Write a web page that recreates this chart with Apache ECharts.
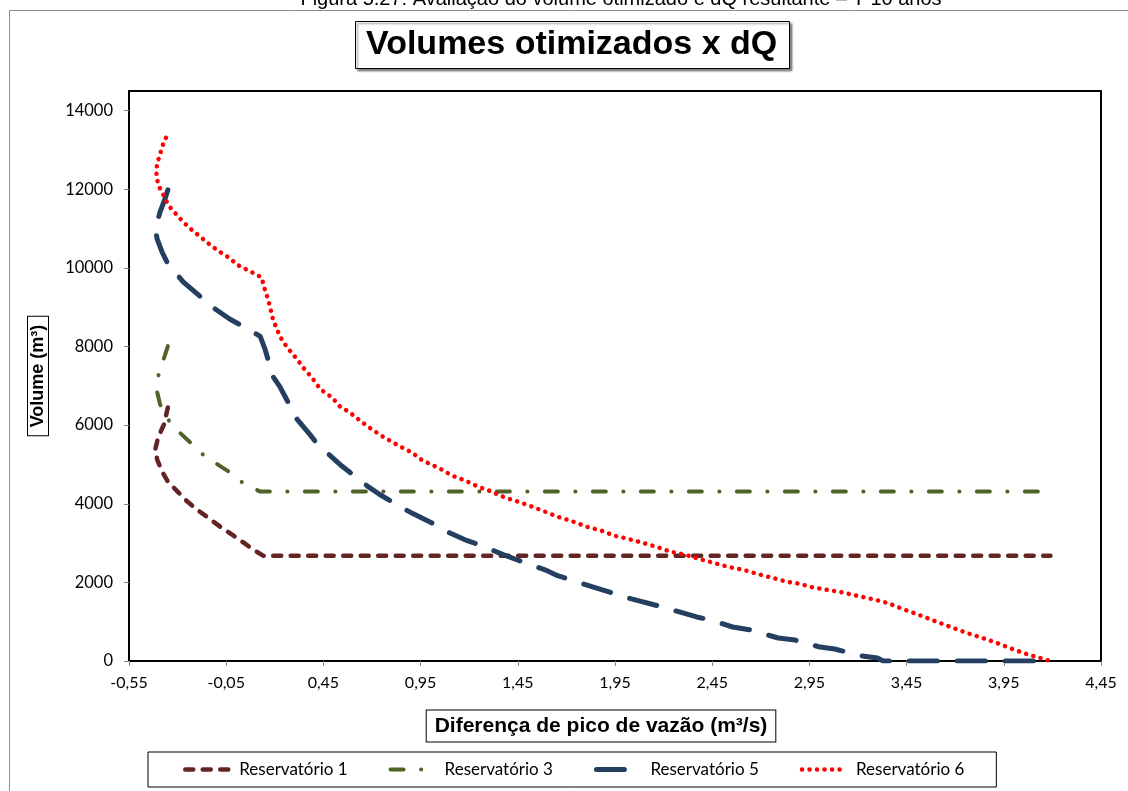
<!DOCTYPE html>
<html><head><meta charset="utf-8">
<script src="https://cdn.jsdelivr.net/npm/echarts@6/dist/echarts.min.js"></script>
<style>html,body{margin:0;padding:0;background:#fff}#c{width:1128px;height:791px}</style>
</head><body><div id="c"></div>
<script>
const captionText = 'Figura 5.27: Avaliação do volume otimizado e dQ resultante – T 10 anos';
const titleText = 'Volumes otimizados x dQ';
const xTitle = 'Diferença de pico de vazão (m³/s)';
const yTitle = 'Volume (m³)';
const seriesNames = ['Reservatório 1', 'Reservatório 3', 'Reservatório 5', 'Reservatório 6'];
const yTickValues = [0, 2000, 4000, 6000, 8000, 10000, 12000, 14000];
const xMin = -0.55, xMax = 4.45, xStep = 0.5;

const res1 = [[-0.35,6450],[-0.37,6020],[-0.40,5690],[-0.415,5380],[-0.405,5125],[-0.38,4820],[-0.35,4565],[-0.30,4310],[-0.25,4055],[-0.20,3850],[-0.15,3670],[-0.08,3415],[-0.02,3215],[0.04,3010],[0.09,2830],[0.14,2680],[4.19,2680]];
const res3 = [[-0.35,8010],[-0.375,7625],[-0.40,7240],[-0.405,6835],[-0.39,6530],[-0.355,6195],[-0.325,5970],[-0.29,5815],[-0.235,5560],[-0.185,5305],[-0.145,5175],[-0.085,4970],[-0.03,4795],[0.01,4615],[0.06,4460],[0.125,4310],[4.19,4310]];
const res5 = [[-0.35,11985],[-0.365,11755],[-0.39,11425],[-0.415,10990],[-0.405,10735],[-0.38,10405],[-0.35,10100],[-0.315,9895],[-0.27,9640],[-0.185,9280],[-0.12,9000],[-0.03,8695],[0.035,8515],[0.125,8260],[0.15,7930],[0.19,7240],[0.225,6985],[0.28,6475],[0.315,6145],[0.38,5765],[0.42,5510],[0.535,5000],[0.6,4745],[0.68,4435],[0.74,4235],[0.845,3925],[0.91,3750],[1.015,3495],[1.075,3315],[1.19,3060],[1.265,2935],[1.375,2705],[1.445,2575],[1.59,2320],[1.655,2170],[1.77,1990],[1.835,1885],[1.965,1685],[2.035,1580],[2.17,1405],[2.245,1300],[2.37,1120],[2.44,1045],[2.555,865],[2.645,790],[2.79,585],[2.875,535],[3.005,355],[3.08,305],[3.22,130],[3.30,75],[3.33,0],[4.19,0]];
const res6 = [[-0.36,13310],[-0.38,13080],[-0.39,12880],[-0.405,12675],[-0.41,12445],[-0.405,12240],[-0.395,12060],[-0.38,11935],[-0.365,11755],[-0.34,11550],[-0.29,11270],[-0.245,11040],[-0.195,10840],[-0.145,10635],[-0.09,10430],[-0.04,10275],[0.01,10070],[0.06,9945],[0.11,9820],[0.135,9740],[0.14,9590],[0.16,9280],[0.175,9025],[0.19,8695],[0.215,8390],[0.24,8135],[0.28,7880],[0.315,7675],[0.345,7470],[0.39,7215],[0.435,6910],[0.495,6705],[0.535,6475],[0.585,6325],[0.65,6070],[0.70,5890],[0.755,5710],[0.845,5455],[0.905,5305],[0.96,5100],[1.05,4895],[1.11,4720],[1.18,4590],[1.245,4435],[1.315,4310],[1.385,4155],[1.45,4055],[1.525,3925],[1.59,3800],[1.655,3670],[1.735,3545],[1.805,3415],[1.88,3315],[1.95,3185],[2.015,3110],[2.09,3010],[2.165,2905],[2.235,2780],[2.31,2705],[2.38,2600],[2.455,2500],[2.53,2395],[2.61,2320],[2.68,2220],[2.76,2115],[2.835,2015],[2.90,1965],[2.955,1885],[3.04,1810],[3.105,1760],[3.195,1660],[3.27,1580],[3.35,1480],[3.415,1350],[3.485,1225],[3.555,1095],[3.62,970],[3.69,840],[3.76,715],[3.84,585],[3.915,460],[3.98,330],[4.05,205],[4.12,100],[4.19,0]];

const chart = echarts.init(document.getElementById('c'), null, {renderer: 'canvas'});
const tickFont = 'Lato';
const mkSeries = (name, data, color, width, dash) => ({
  name, type: 'line', data, symbol: 'none', showSymbol: false, smooth: false,
  lineStyle: {color, width, type: dash, cap: 'round', join: 'round'},
  itemStyle: {color}, emphasis: {disabled: true}, animation: false
});
chart.setOption({
  backgroundColor: '#fff',
  animation: false,
  title: {
    text: titleText, left: 355, top: 21, padding: [7, 13, 7, 11],
    borderColor: '#000', borderWidth: 1, backgroundColor: '#fff',
    shadowColor: 'rgba(0,0,0,0.45)', shadowBlur: 2, shadowOffsetX: 2, shadowOffsetY: 2,
    textStyle: {fontFamily: 'Liberation Sans', fontWeight: 'bold', fontSize: 34, color: '#000'}
  },
  legend: {
    data: seriesNames, left: 148, top: 752, orient: 'horizontal',
    padding: [9, 32, 9, 35], itemWidth: 45, itemHeight: 18, itemGap: 41,
    borderColor: '#000', borderWidth: 1, backgroundColor: '#fff',
    lineStyle: {width: 'inherit'},
    itemStyle: {opacity: 0},
    textStyle: {fontFamily: tickFont, fontSize: 17, color: '#000', padding: [0, 0, 0, 4]},
    selectedMode: false
  },
  grid: {left: 129, right: 27, top: 91, bottom: 130, show: true, borderColor: '#000', borderWidth: 2, containLabel: false},
  xAxis: {
    type: 'value', min: xMin, max: xMax, interval: xStep,
    axisLine: {show: true, onZero: false, lineStyle: {color: '#000', width: 2}},
    axisTick: {show: true, length: 5, lineStyle: {color: '#868686'}},
    splitLine: {show: false},
    axisLabel: {margin: 14, fontFamily: tickFont, fontSize: 16, color: '#000',
      formatter: v => v.toFixed(2).replace('.', ',')}
  },
  yAxis: {
    type: 'value', min: 0, max: 14500,
    axisLine: {show: true, onZero: false, lineStyle: {color: '#000', width: 2}},
    axisTick: {show: true, length: 5, lineStyle: {color: '#868686'}, customValues: yTickValues},
    splitLine: {show: false},
    axisLabel: {margin: 16, fontFamily: tickFont, fontSize: 16.5, color: '#000', customValues: yTickValues,
      formatter: v => String(v)}
  },
  graphic: [
    {type: 'rect', silent: true, z: -10, shape: {x: 9.5, y: 10.5, width: 1300, height: 1000},
     style: {fill: 'none', stroke: '#8c8c8c', lineWidth: 1}},
    {type: 'text', silent: true, x: 621, y: -1,
     style: {text: captionText, font: '20px "Liberation Sans"', fill: '#000', textAlign: 'center', textVerticalAlign: 'middle'}},
    {type: 'text', silent: true, x: 601, y: 726,
     style: {text: xTitle, font: 'bold 21px "Liberation Sans"', fill: '#000', textAlign: 'center', textVerticalAlign: 'middle',
       backgroundColor: '#fff', borderColor: '#000', borderWidth: 1, padding: [5, 8]}},
    {type: 'text', silent: true, x: 38, y: 376, rotation: Math.PI / 2,
     style: {text: yTitle, font: 'bold 18px "Liberation Sans"', fill: '#000', textAlign: 'center', textVerticalAlign: 'middle',
       backgroundColor: '#fff', borderColor: '#000', borderWidth: 1, padding: [1, 8]}}
  ],
  series: [
    mkSeries(seriesNames[0], res1, '#632523', 4.5, [8, 9.5]),
    mkSeries(seriesNames[1], res3, '#4F6228', 4, [13, 17.5, 0.1, 17.4]),
    mkSeries(seriesNames[2], res5, '#243F60', 5, [28, 20]),
    mkSeries(seriesNames[3], res6, '#FF0000', 4.5, [0.1, 7.4])
  ]
});
</script></body></html>
